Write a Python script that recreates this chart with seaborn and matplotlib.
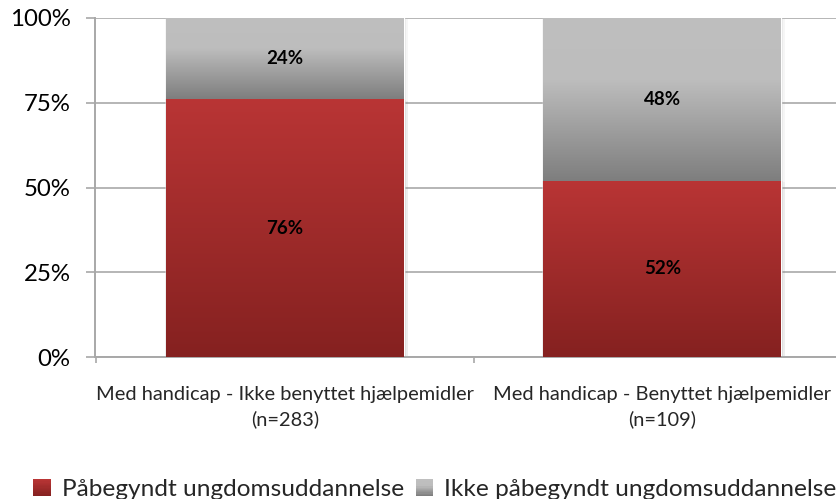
import numpy as np
import pandas as pd
import matplotlib
matplotlib.use("Agg")
import matplotlib.pyplot as plt
import seaborn as sns
from matplotlib.colors import LinearSegmentedColormap
from matplotlib.legend_handler import HandlerBase
from matplotlib.patches import Rectangle
from matplotlib.ticker import PercentFormatter, FixedLocator
from matplotlib import patheffects

# --- data -------------------------------------------------------------
categories = [
    "Med handicap - Ikke benyttet hjælpemidler\n(n=283)",
    "Med handicap - Benyttet hjælpemidler\n(n=109)",
]
started = [76, 52]        # Påbegyndt ungdomsuddannelse (%)
not_started = [24, 48]    # Ikke påbegyndt ungdomsuddannelse (%)
series_names = ["Påbegyndt ungdomsuddannelse", "Ikke påbegyndt ungdomsuddannelse"]
y_ticks = [0, 25, 50, 75, 100]

# --- style ------------------------------------------------------------
sns.set_theme(style="white")
plt.rcParams["font.family"] = ["Lato", "DejaVu Sans"]

red_cmap = LinearSegmentedColormap.from_list("red_grad", ["#852120", "#b93535"])
gray_cmap = LinearSegmentedColormap.from_list(
    "gray_grad", [(0.0, "#7e7e7e"), (0.62, "#bdbdbd"), (1.0, "#bfbfbf")]
)
axis_gray = "#a8a8a8"

fig = plt.figure(figsize=(8.36, 4.99), dpi=100)
ax = fig.add_axes([95 / 836, 142 / 499, 741 / 836, 339 / 499])

df = pd.DataFrame({
    "category": categories,
    "started": started,
    "total": np.add(started, not_started),
})

bar_w = 0.63
sns.barplot(data=df, x="category", y="total", color="#bfbfbf", width=bar_w,
            ax=ax, zorder=2, saturation=1)
sns.barplot(data=df, x="category", y="started", color="#b83434", width=bar_w,
            ax=ax, zorder=2, saturation=1)

patches = list(ax.patches)
n = len(categories)
gray_bars, red_bars = patches[:n], patches[n:]

grad = np.linspace(0, 1, 256).reshape(-1, 1)
# soft drop shadow around the bars
shadow = [
    patheffects.SimplePatchShadow(offset=(3, -1), shadow_rgbFace="#808080", alpha=0.07),
    patheffects.SimplePatchShadow(offset=(1.5, -0.5), shadow_rgbFace="#808080", alpha=0.12),
    patheffects.SimplePatchShadow(offset=(-1, 0), shadow_rgbFace="#808080", alpha=0.08),
    patheffects.Normal(),
]

for gb, rb in zip(gray_bars, red_bars):
    x0, w = rb.get_x(), rb.get_width()
    r_lo, r_hi = rb.get_y(), rb.get_y() + rb.get_height()
    g_hi = gb.get_y() + gb.get_height()
    gb.set_path_effects(shadow)
    rb.set_path_effects(shadow)
    ax.imshow(grad, cmap=red_cmap, origin="lower", aspect="auto",
              extent=[x0, x0 + w, r_lo, r_hi], zorder=3, interpolation="bilinear")
    ax.imshow(grad, cmap=gray_cmap, origin="lower", aspect="auto",
              extent=[x0, x0 + w, r_hi, g_hi], zorder=3, interpolation="bilinear")
    # value labels centred in each segment
    xc = x0 + w / 2
    ax.text(xc, (r_lo + r_hi) / 2, f"{round(r_hi - r_lo)}%", ha="center", va="center",
            fontsize=13.5, fontweight="bold", color="black", zorder=5)
    ax.text(xc, (r_hi + g_hi) / 2, f"{round(g_hi - r_hi)}%", ha="center", va="center",
            fontsize=13.5, fontweight="bold", color="black", zorder=5)

# --- axes -------------------------------------------------------------
ax.set_xlim(-0.503, 1.46)
ax.set_ylim(0, 100)
ax.set_xlabel("")
ax.set_ylabel("")
ax.set_axisbelow(True)

ax.yaxis.set_major_locator(FixedLocator(y_ticks))
ax.yaxis.set_major_formatter(PercentFormatter(decimals=0))
ax.yaxis.grid(True, color="#b5b5b5", linewidth=1.4)
ax.xaxis.grid(False)

for side in ("top", "right"):
    ax.spines[side].set_visible(False)
for side in ("left", "bottom"):
    ax.spines[side].set_color(axis_gray)
    ax.spines[side].set_linewidth(1.4)

ax.tick_params(axis="y", which="major", left=True, length=6.5, width=1.2,
               color=axis_gray, pad=11, labelsize=17.3, labelcolor="black")
ax.tick_params(axis="x", which="major", bottom=False, length=0, pad=21,
               labelsize=14.4, labelcolor="#262626")
ax.xaxis.set_minor_locator(FixedLocator([-0.5, 0.5, 1.5]))
ax.tick_params(axis="x", which="minor", bottom=True, length=4, width=1.2, color=axis_gray)
for lab in ax.get_xticklabels():
    lab.set_linespacing(1.45)


# --- legend with gradient squares ------------------------------------
class GradientSquare(HandlerBase):
    def __init__(self, cmap):
        super().__init__()
        self.cmap = cmap

    def create_artists(self, legend, orig_handle, xdescent, ydescent,
                       width, height, fontsize, trans):
        side = min(width, height)
        steps = 14
        arts = []
        for k in range(steps):
            arts.append(Rectangle((-xdescent, -ydescent + k * side / steps),
                                  side, side / steps * 1.05,
                                  facecolor=self.cmap(k / (steps - 1)),
                                  edgecolor="none", transform=trans))
        return arts


h_red = Rectangle((0, 0), 1, 1)
h_gray = Rectangle((0, 0), 1, 1)
fig.legend(handles=[h_red, h_gray], labels=series_names, loc="lower center",
           bbox_to_anchor=(435 / 836, -0.012), ncol=2, frameon=False,
           fontsize=17.6, handlelength=0.7, handleheight=0.7, handletextpad=0.45,
           columnspacing=0.5, borderaxespad=0, borderpad=0.2,
           handler_map={h_red: GradientSquare(red_cmap), h_gray: GradientSquare(gray_cmap)})

fig.savefig("out.png", dpi=100)
